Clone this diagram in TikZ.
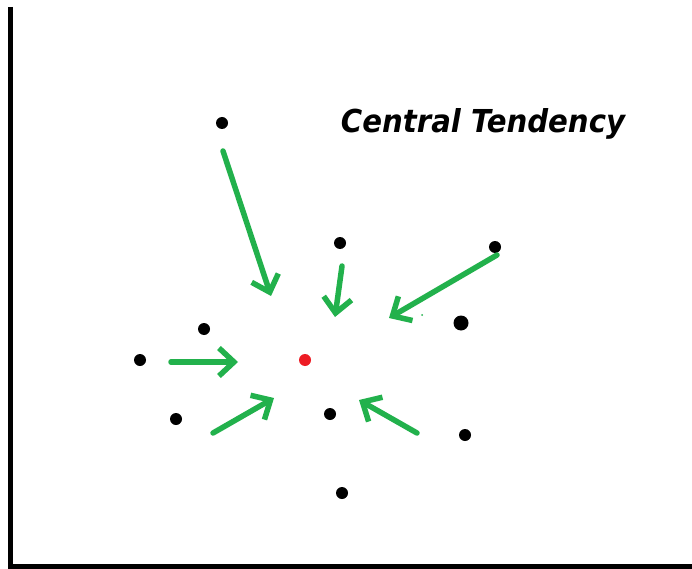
\documentclass[tikz,border=0pt]{standalone}
\usepackage{fontspec}
\newfontfamily\notefont{DejaVu Sans Condensed}
\usetikzlibrary{arrows.meta}
\definecolor{paintgreen}{RGB}{34,177,76}
\definecolor{paintred}{RGB}{237,28,36}
\begin{document}
\begin{tikzpicture}[x=1pt,y=-1pt,
  datum/.style={circle,fill=black,inner sep=0pt,minimum size=12pt},
  centre/.style={circle,fill=paintred,inner sep=0pt,minimum size=12pt},
  pull/.style={draw=paintgreen,line width=5.5pt,line cap=round,
    -{Straight Barb[length=15pt,width=28pt,line width=5.5pt]}},
  axisline/.style={line width=5pt}]
\useasboundingbox (0,0) rectangle (692,569);
\fill[white] (0,0) rectangle (692,569);

% axes
\coordinate (ytop) at (10,7);
\coordinate (origin) at (10,566);
\coordinate (xend) at (692,566);
\draw[axisline] (ytop) -- (origin) -- (xend);

% data points
\node[datum] (p1) at (222,123) {};
\node[datum] (p2) at (340,243) {};
\node[datum] (p3) at (495,247) {};
\node[datum] (p4) at (204,329) {};
\node[datum,minimum size=15pt] (p5) at (461,323) {};
\node[datum] (p6) at (140,360) {};
\node[datum] (p7) at (176,419) {};
\node[datum] (p8) at (330,414) {};
\node[datum] (p9) at (465,435) {};
\node[datum] (p10) at (342,493) {};
\node[centre] (mid) at (305,360) {};

% arrows pulling towards the centre
\coordinate (a1s) at (223,151); \coordinate (a1e) at (271,296);
\coordinate (a2s) at (342,266); \coordinate (a2e) at (335,317);
\coordinate (a3s) at (497,255); \coordinate (a3e) at (389,318);
\coordinate (a4s) at (171,362); \coordinate (a4e) at (238,362);
\coordinate (a5s) at (213,433); \coordinate (a5e) at (274,398);
\coordinate (a6s) at (417,433); \coordinate (a6e) at (359,400);
\draw[pull] (a1s) -- (a1e);
\draw[pull] (a2s) -- (a2e);
\draw[pull] (a3s) -- (a3e);
\draw[pull] (a4s) -- (a4e);
\draw[pull] (a5s) -- (a5e);
\draw[pull] (a6s) -- (a6e);
\fill[paintgreen] (422,315) circle (1pt);

% title
\node (title) at (483,124) {\resizebox{284pt}{24pt}{\notefont\bfseries\itshape Central Tendency}};
\end{tikzpicture}
\end{document}
